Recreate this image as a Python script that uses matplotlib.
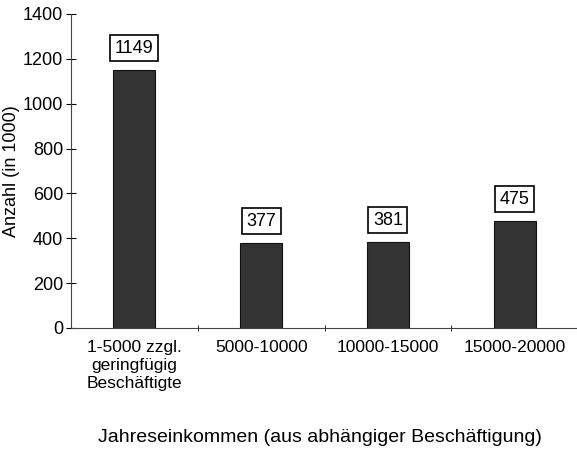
import matplotlib
matplotlib.use("Agg")
import matplotlib.pyplot as plt
import numpy as np

plt.rcParams['font.family'] = ['Liberation Sans', 'DejaVu Sans']

# data
categories = ["1-5000 zzgl.\ngeringfügig\nBeschäftigte", "5000-10000", "10000-15000", "15000-20000"]
values = [1149, 377, 381, 475]
y_ticks = [0, 200, 400, 600, 800, 1000, 1200, 1400]

fig = plt.figure(figsize=(5.77, 4.51), dpi=100)
ax = fig.add_axes([0.123, 0.273, 0.879, 0.696])

x = np.arange(len(categories))
bars = ax.bar(x, values, width=0.33, color='#333333', edgecolor='#111111', linewidth=0.8)

for xi, v in zip(x, values):
    ax.annotate(str(v), (xi, v), xytext=(0, 16), textcoords='offset points',
                ha='center', va='center', fontsize=13,
                bbox=dict(boxstyle='square,pad=0.25', fc='white', ec='black', lw=1.2))

ax.set_xlim(-0.5, len(categories) - 0.5)
ax.set_ylim(0, 1400)
ax.set_yticks(y_ticks)
ax.set_xticks(x)
ax.set_xticklabels(categories, fontsize=12.5, linespacing=1.25)
ax.tick_params(axis='x', length=0, pad=9)
ax.set_xticks(np.arange(len(categories) - 1) + 0.5, minor=True)
ax.tick_params(axis='x', which='minor', length=5, direction='inout')
ax.tick_params(axis='y', labelsize=13, direction='inout', length=7, pad=2)

ax.spines['top'].set_visible(False)
ax.spines['right'].set_visible(False)
ax.spines['left'].set_color('#444444')
ax.spines['bottom'].set_color('#444444')

ax.set_ylabel("Anzahl (in 1000)", fontsize=13, labelpad=2)
fig.text(0.555, 0.03, "Jahreseinkommen (aus abhängiger Beschäftigung)", ha='center', va='center', fontsize=14)

plt.savefig("out.png", dpi=100)
